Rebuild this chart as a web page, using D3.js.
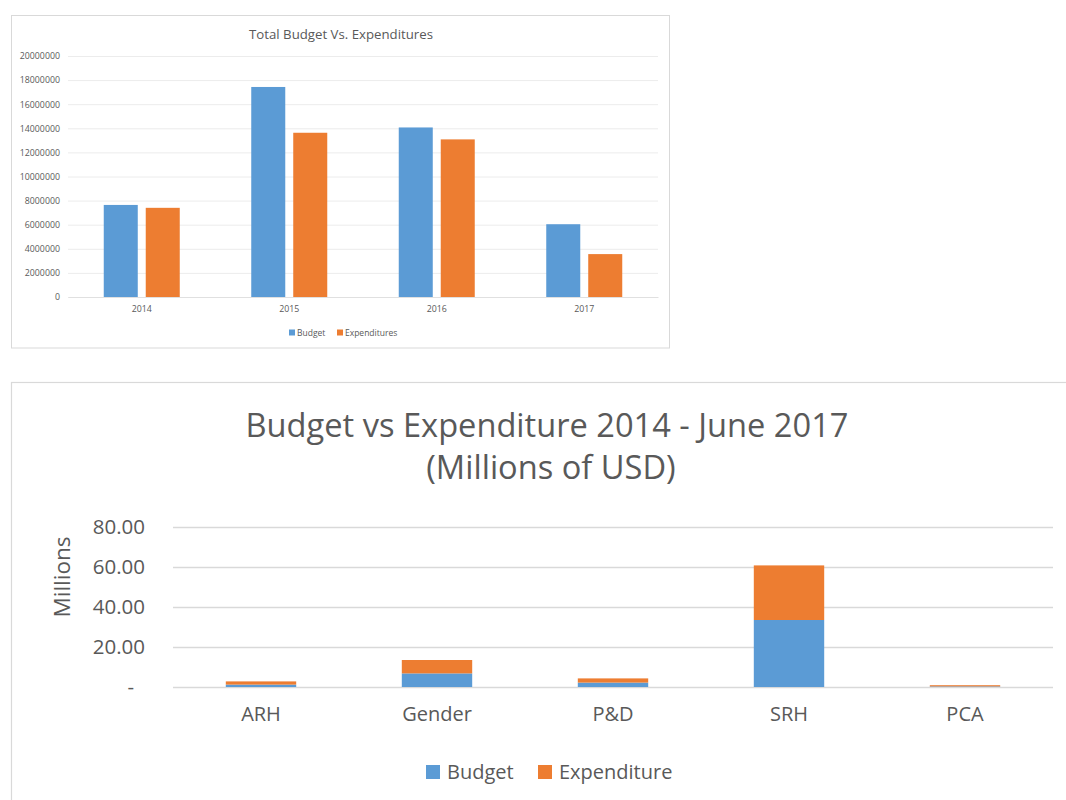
<!DOCTYPE html>
<html>
<head>
<meta charset="utf-8">
<script src="https://cdn.jsdelivr.net/npm/d3@7"></script>
<style>
  html, body { margin: 0; padding: 0; background: #fff; }
  svg { display: block; font-family: "Open Sans", sans-serif; }
</style>
</head>
<body>
<svg id="chart" width="1066" height="800"></svg>
<script>
// ---- Top chart data ----
const years = ["2014", "2015", "2016", "2017"];
const totalSeries = ["Budget", "Expenditures"];
const totalBudget = [7640000, 17430000, 14070000, 6040000];
const totalExpenditures = [7400000, 13630000, 13080000, 3560000];
const totalTicks = [0, 2000000, 4000000, 6000000, 8000000, 10000000, 12000000, 14000000, 16000000, 18000000, 20000000];

// ---- Bottom chart data ----
const programs = ["ARH", "Gender", "P&D", "SRH", "PCA"];
const programSeries = ["Budget", "Expenditure"];
const programBudget = [1.2, 6.8, 2.2, 33.5, 0.3];
const programExpenditure = [1.6, 6.7, 2.1, 27.3, 0.6];
const programTicks = [0, 20, 40, 60, 80];

const BLUE = "#5b9bd5", ORANGE = "#ed7d31", TEXT = "#595959", GRID = "#d9d9d9";
const svg = d3.select("#chart");

function fitWidth(sel, target) {
  const w = sel.node().getComputedTextLength();
  const fs = parseFloat(sel.attr("font-size"));
  sel.attr("font-size", fs * target / w);
}

// ================= TOP CHART =================
(function () {
  const g = svg.append("g");
  g.append("rect").attr("x", 11.5).attr("y", 15.5).attr("width", 658).attr("height", 332.5)
    .attr("fill", "#fff").attr("stroke", GRID).attr("stroke-width", 1);

  const title = g.append("text").attr("x", 341).attr("y", 38.5).attr("text-anchor", "middle")
    .attr("font-size", 12).attr("fill", TEXT).text("Total Budget Vs. Expenditures");
  fitWidth(title, 184);

  const x0 = d3.scaleBand().domain(years).range([68, 658]).padding(0);
  const x1 = d3.scaleBand().domain(totalSeries).range([0, 76]).paddingInner(0.19).paddingOuter(0);
  const y = d3.scaleLinear().domain([0, 20000000]).range([297, 56]);

  const yAxis = d3.axisLeft(y).tickValues(totalTicks).tickSize(-590).tickPadding(8).tickFormat(d3.format("d"));
  const ya = g.append("g").attr("transform", "translate(68,0)").call(yAxis);
  ya.select(".domain").remove();
  ya.selectAll(".tick line").attr("stroke", "#ececec").attr("stroke-width", 1);
  ya.selectAll(".tick text").attr("font-size", 8.8).attr("fill", TEXT).attr("font-family", "Open Sans");

  const xAxis = d3.axisBottom(x0).tickSize(0).tickPadding(9);
  const xa = g.append("g").attr("transform", "translate(0,297)").call(xAxis);
  xa.select(".domain").attr("stroke", "#e0e0e0");
  xa.selectAll(".tick text").attr("font-size", 8.8).attr("fill", TEXT).attr("font-family", "Open Sans");

  const rows = years.map((yr, i) => ({ yr, vals: [totalBudget[i], totalExpenditures[i]] }));
  const colors = [BLUE, ORANGE];
  const grp = g.selectAll(".grp").data(rows).enter().append("g")
    .attr("transform", d => `translate(${x0(d.yr) + x0.bandwidth() / 2 - 38},0)`);
  grp.selectAll("rect").data(d => d.vals.map((v, k) => ({ s: totalSeries[k], v, k }))).enter().append("rect")
    .attr("x", d => x1(d.s)).attr("width", x1.bandwidth())
    .attr("y", d => y(d.v)).attr("height", d => y(0) - y(d.v))
    .attr("fill", d => colors[d.k]);

  // legend
  const leg = g.append("g");
  const items = [{ label: "Budget", c: BLUE, x: 289 }, { label: "Expenditures", c: ORANGE, x: 337 }];
  items.forEach(it => {
    leg.append("rect").attr("x", it.x).attr("y", 329.5).attr("width", 6).attr("height", 6).attr("fill", it.c);
    leg.append("text").attr("x", it.x + 8).attr("y", 335.5).attr("font-size", 8.5).attr("fill", TEXT).text(it.label);
  });
})();

// ================= BOTTOM CHART =================
(function () {
  const g = svg.append("g");
  g.append("rect").attr("x", 11.5).attr("y", 382.5).attr("width", 1100).attr("height", 500)
    .attr("fill", "#fff").attr("stroke", GRID).attr("stroke-width", 1.2);

  const t1 = g.append("text").attr("x", 547).attr("y", 437).attr("text-anchor", "middle")
    .attr("font-size", 30).attr("fill", TEXT).text("Budget vs Expenditure 2014 - June 2017");
  fitWidth(t1, 603);
  const t2 = g.append("text").attr("x", 551).attr("y", 479).attr("text-anchor", "middle")
    .attr("font-size", t1.attr("font-size")).attr("fill", TEXT).text("(Millions of USD)");

  const x = d3.scaleBand().domain(programs).range([173, 1053]).paddingInner(0.6).paddingOuter(0.3);
  const y = d3.scaleLinear().domain([0, 80]).range([687, 527]);

  const yAxis = d3.axisLeft(y).tickValues(programTicks).tickSize(-880).tickPadding(28)
    .tickFormat(d => d === 0 ? "-" : d3.format(".2f")(d));
  const ya = g.append("g").attr("transform", "translate(173,0)").call(yAxis);
  ya.select(".domain").remove();
  ya.selectAll(".tick line").attr("stroke", GRID).attr("stroke-width", 1.6);
  ya.selectAll(".tick text").attr("font-size", 20.5).attr("fill", TEXT).attr("font-family", "Open Sans")
    .attr("dx", d => d === 0 ? -11 : 0);

  const xAxis = d3.axisBottom(x).tickSize(0).tickPadding(20);
  const xa = g.append("g").attr("transform", "translate(0,687)").call(xAxis);
  xa.select(".domain").remove();
  xa.selectAll(".tick text").attr("font-size", 20).attr("fill", TEXT).attr("font-family", "Open Sans");

  g.append("text").attr("transform", "translate(70,577) rotate(-90)").attr("text-anchor", "middle")
    .attr("font-size", 22.5).attr("fill", TEXT).text("Millions");

  const stackData = programs.map((p, i) => ({ program: p, Budget: programBudget[i], Expenditure: programExpenditure[i] }));
  const stacked = d3.stack().keys(programSeries)(stackData);
  const colors = { Budget: BLUE, Expenditure: ORANGE };
  g.selectAll(".layer").data(stacked).enter().append("g").attr("fill", d => colors[d.key])
    .selectAll("rect").data(d => d).enter().append("rect")
    .attr("x", d => x(d.data.program)).attr("width", x.bandwidth())
    .attr("y", d => y(d[1])).attr("height", d => y(d[0]) - y(d[1]));

  // legend
  const items = [{ label: "Budget", c: BLUE, x: 426 }, { label: "Expenditure", c: ORANGE, x: 538 }];
  items.forEach(it => {
    g.append("rect").attr("x", it.x).attr("y", 765).attr("width", 14).attr("height", 14).attr("fill", it.c);
    g.append("text").attr("x", it.x + 21).attr("y", 779).attr("font-size", 20).attr("fill", TEXT).text(it.label);
  });
})();
</script>
</body>
</html>
